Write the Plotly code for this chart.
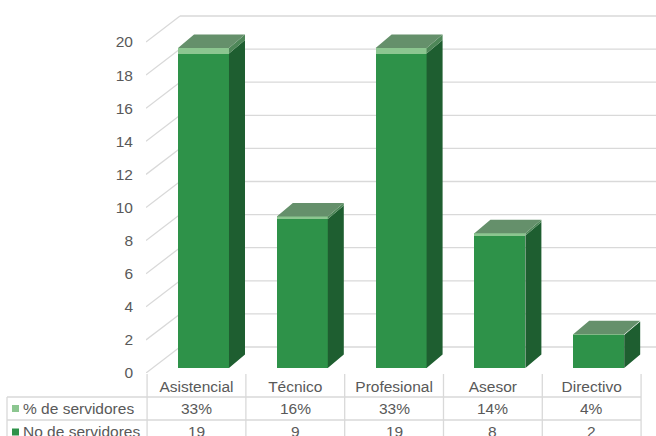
import plotly.graph_objects as go

# ---- data ----
categories = ["Asistencial", "Técnico", "Profesional", "Asesor", "Directivo"]
servidores = [19, 9, 19, 8, 2]                  # No de servidores
porcentaje = [0.33, 0.16, 0.33, 0.14, 0.04]     # % de servidores (fraction)
y_ticks = list(range(0, 21, 2))

# ---- styling / geometry ----
FONT = "Liberation Sans, Arial, sans-serif"
TXT = "#595959"
GRID = "#D9D9D9"
FRONT = "#2E9249"
FRONT_LIGHT = "#8CC690"
SIDE = "#1E5E30"
SIDE_LIGHT = "#4E8758"
TOP = "#65906B"

W, H = 656, 436
ML, MB = 146, 63
PLOT_W, PLOT_H = W - ML, H - MB

X_RANGE = [-0.511, 4.651]          # category units
Y_RANGE = [-0.302, 22.236]         # value units (front plane of the columns)
BAR_OFF = 0.071                    # column front face shift inside the category
BAR_W = 0.516
DEPTH_X, DEPTH_Y = 0.162, 0.816    # column depth (oblique projection)
WALL_X = -0.167                    # x of the back wall's left edge
WALL_DY = 1.269                    # back-wall vertical offset in value units
FLOOR_DY = Y_RANGE[0]              # front edge of the floor


def px_x(px):
    return (px - ML) / PLOT_W


def px_y(py):
    return (PLOT_H - py) / PLOT_H


def cat_to_paper(c):
    return (c - X_RANGE[0]) / (X_RANGE[1] - X_RANGE[0])


fig = go.Figure()
shapes = []
grid_line = dict(color=GRID, width=1.3)

# back-wall grid and left-wall diagonals, kept under the columns
for v in y_ticks:
    shapes.append(dict(type="line", xref="x", yref="y", layer="below",
                       x0=X_RANGE[0], y0=v + FLOOR_DY, x1=WALL_X, y1=v + WALL_DY, line=grid_line))
    shapes.append(dict(type="line", xref="x", yref="y", layer="below",
                       x0=WALL_X, y0=v + WALL_DY, x1=X_RANGE[1], y1=v + WALL_DY, line=grid_line))

xs = [i + BAR_OFF for i in range(len(categories))]

# front faces (stacked)
fig.add_trace(go.Bar(x=xs, y=servidores, width=BAR_W, marker=dict(color=FRONT, line=dict(width=0)),
                     name="No de servidores", showlegend=False))
fig.add_trace(go.Bar(x=xs, y=porcentaje, width=BAR_W, marker=dict(color=FRONT_LIGHT, line=dict(width=0)),
                     name="% de servidores", showlegend=False))


def side_poly(xc, lo, hi):
    x1 = xc + BAR_W / 2
    return ([x1, x1 + DEPTH_X, x1 + DEPTH_X, x1, x1, None],
            [lo, lo + DEPTH_Y, hi + DEPTH_Y, hi, lo, None])


def top_poly(xc, top):
    x0, x1 = xc - BAR_W / 2, xc + BAR_W / 2
    return ([x0, x1, x1 + DEPTH_X, x0 + DEPTH_X, x0, None],
            [top, top, top + DEPTH_Y, top + DEPTH_Y, top, None])


sx, sy, lx, ly, tx, ty = [], [], [], [], [], []
for xc, n, p in zip(xs, servidores, porcentaje):
    a, b = side_poly(xc, 0, n)
    sx += a; sy += b
    a, b = side_poly(xc, n, n + p)
    lx += a; ly += b
    a, b = top_poly(xc, n + p)
    tx += a; ty += b

for px_, py_, col in [(sx, sy, SIDE), (lx, ly, SIDE_LIGHT), (tx, ty, TOP)]:
    fig.add_trace(go.Scatter(x=px_, y=py_, mode="lines", fill="toself", fillcolor=col,
                             line=dict(width=0, color=col), hoverinfo="skip",
                             showlegend=False))

# ---- data table below the plot ----
x_left = px_x(7)
x_right = cat_to_paper(len(categories) - 0.5)
for py in (397, 420):
    shapes.append(dict(type="line", xref="paper", yref="paper", x0=x_left, x1=x_right,
                       y0=px_y(py), y1=px_y(py), line=grid_line))
shapes.append(dict(type="line", xref="paper", yref="paper", x0=x_left, x1=x_left,
                   y0=px_y(397), y1=px_y(445), line=grid_line))
for k in range(len(categories) + 1):
    xp = cat_to_paper(k - 0.5)
    shapes.append(dict(type="line", xref="paper", yref="paper", x0=xp, x1=xp,
                       y0=px_y(374), y1=px_y(445), line=grid_line))

rows = [("% de servidores", [f"{round(p * 100)}%" for p in porcentaje], FRONT_LIGHT, 408.5),
        ("No de servidores", [str(n) for n in servidores], FRONT, 432)]
annotations = []
for label, vals, col, py in rows:
    shapes.append(dict(type="rect", xref="paper", yref="paper", x0=px_x(12), x1=px_x(19),
                       y0=px_y(py + 3.5), y1=px_y(py - 3.5), fillcolor=col, line=dict(width=0)))
    annotations.append(dict(xref="paper", yref="paper", x=px_x(21), y=px_y(py), text=label,
                            showarrow=False, xanchor="left", yanchor="middle",
                            font=dict(family=FONT, size=15.5, color=TXT)))
    for i, v in enumerate(vals):
        annotations.append(dict(xref="paper", yref="paper", x=cat_to_paper(i), y=px_y(py),
                                text=v, showarrow=False, xanchor="center", yanchor="middle",
                                font=dict(family=FONT, size=15.5, color=TXT)))

fig.update_layout(
    width=W, height=H,
    margin=dict(l=ML, r=0, t=0, b=MB),
    paper_bgcolor="white", plot_bgcolor="white",
    barmode="stack", bargap=0,
    showlegend=False,
    shapes=shapes, annotations=annotations,
    xaxis=dict(range=X_RANGE, tickvals=list(range(len(categories))), ticktext=categories,
               showgrid=False, zeroline=False, showline=False, ticks="",
               tickfont=dict(family=FONT, size=15.5, color=TXT), ticklabelstandoff=2,
               fixedrange=True),
    yaxis=dict(range=Y_RANGE, tickvals=y_ticks, showgrid=False, zeroline=False,
               showline=False, ticks="", tickfont=dict(family=FONT, size=15.5, color=TXT),
               ticklabelstandoff=12, ticklabelshift=5, fixedrange=True),
)

fig.write_html("out.html")
